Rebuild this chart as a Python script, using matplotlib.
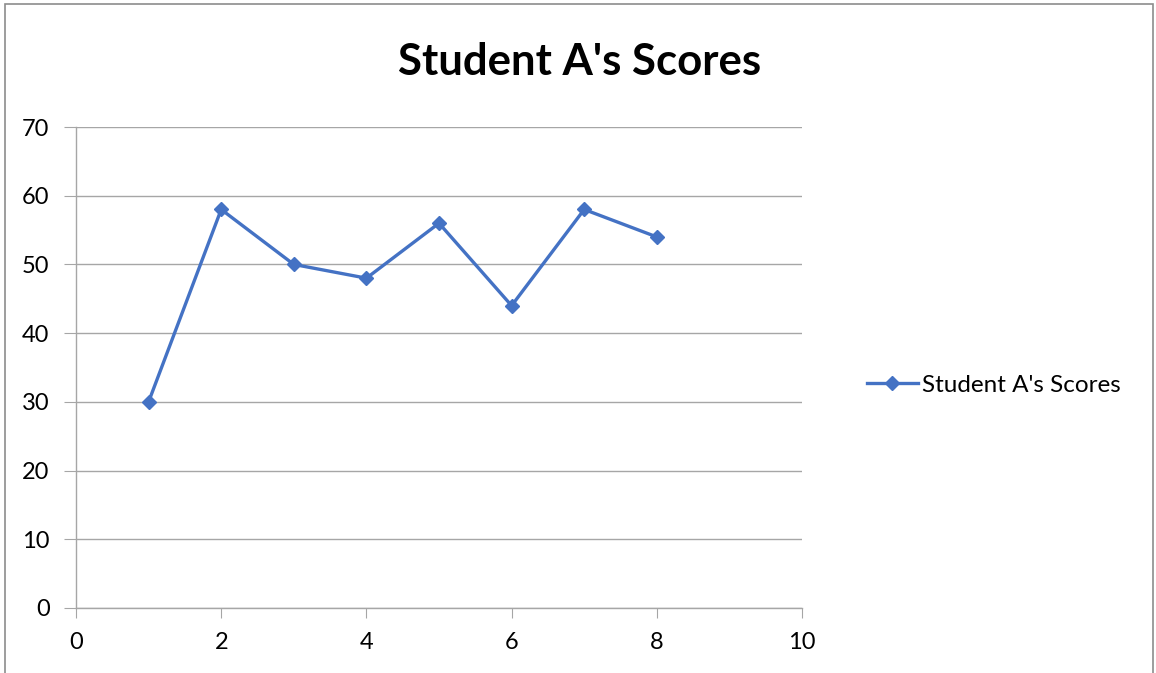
import matplotlib
matplotlib.use('Agg')
import matplotlib.pyplot as plt
from matplotlib.lines import Line2D
from matplotlib.patches import Rectangle

# 数据
attempts = [1, 2, 3, 4, 5, 6, 7, 8]
scores = [30, 58, 50, 48, 56, 44, 58, 54]
series_name = "Student A's Scores"
title = "Student A's Scores"

plt.rcParams['font.family'] = ['Lato', 'DejaVu Sans']

fig = plt.figure(figsize=(11.56, 6.73), dpi=100)
ax = fig.add_axes([76 / 1156, 1 - 608 / 673, (802 - 76) / 1156, (608 - 127) / 673])

line_color = '#4472C4'
grid_color = '#A6A6A6'

ax.plot(attempts, scores, color=line_color, linewidth=2.4, marker='D',
        markersize=7.5, markerfacecolor=line_color, markeredgecolor=line_color,
        zorder=3)

ax.set_xlim(0, 10)
ax.set_ylim(0, 70)
ax.set_xticks(range(0, 11, 2))
ax.set_yticks(range(0, 71, 10))

ax.grid(axis='y', color=grid_color, linewidth=1.0)
ax.set_axisbelow(True)
for s in ['top', 'right']:
    ax.spines[s].set_visible(False)
for s in ['left', 'bottom']:
    ax.spines[s].set_color(grid_color)
    ax.spines[s].set_linewidth(1.0)

ax.tick_params(axis='x', direction='out', length=7, color=grid_color,
               labelsize=17, pad=10)
ax.tick_params(axis='y', direction='out', length=9, color=grid_color,
               labelsize=17, pad=10)

fig.text(0.5015, 1 - 62 / 673, title, ha='center', va='center',
         fontsize=31.5, fontweight='bold')

handle = Line2D([], [], color=line_color, linewidth=2.4, marker='D',
                markersize=7.5, markerfacecolor=line_color,
                markeredgecolor=line_color)
fig.legend([handle], [series_name], loc='center left',
           bbox_to_anchor=(845 / 1156, 1 - 385 / 673), frameon=False,
           fontsize=17.5, handlelength=2.1, handletextpad=0.15)

# 外框
fig.patches.append(Rectangle((5 / 1156, -0.05), 1148 / 1156, 1.05 - 4 / 673,
                             transform=fig.transFigure, fill=False,
                             edgecolor='#8C8C8C', linewidth=1.2))

fig.savefig('out.png', dpi=100)
